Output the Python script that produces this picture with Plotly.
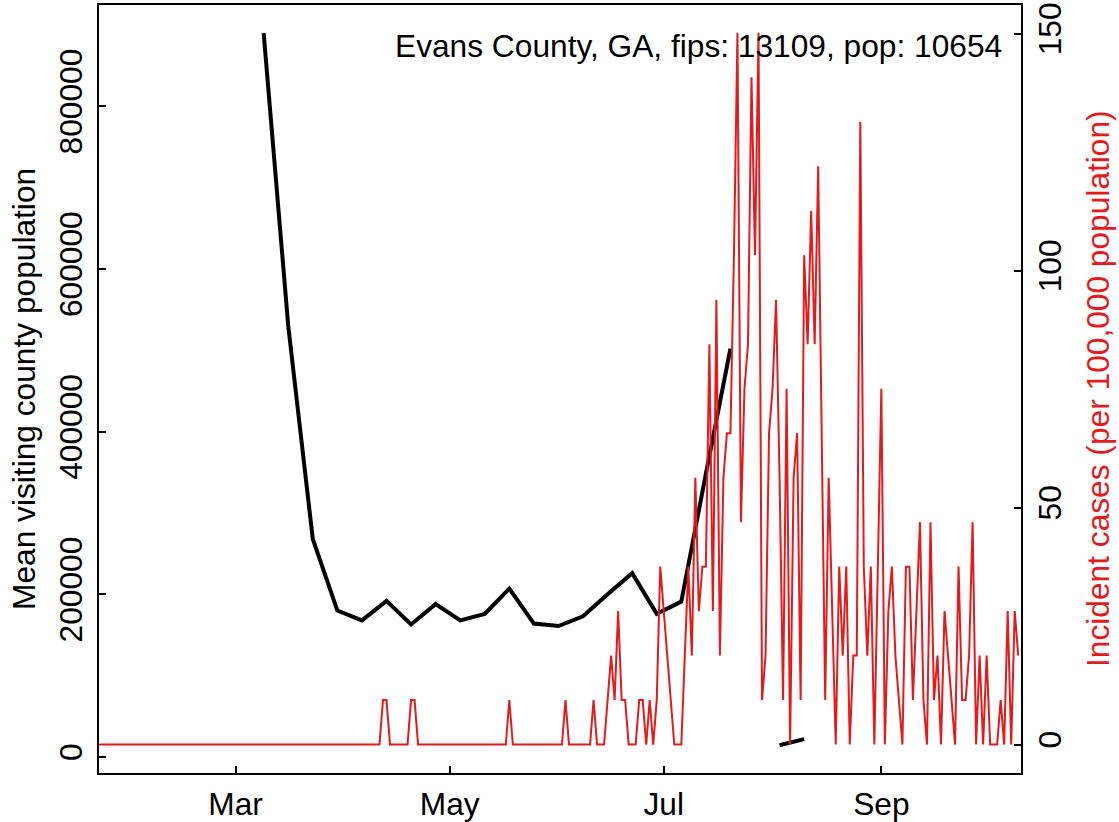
import pandas as pd
import plotly.graph_objects as go

# ---------------- data ----------------
county_pop = 10654
case_start = "2020-01-22"
# daily incident case counts (plotted per 100,000 population)
daily_cases = (
    [0] * 81
    + [1, 1]
    + [0] * 6
    + [1, 1]
    + [0] * 26
    + [1]
    + [0] * 15
    + [1]
    + [0] * 7
    + [1]
    + [0] * 3
    + [1, 2, 1, 3, 1, 1, 0, 0, 0, 1, 1, 0, 1, 0, 1, 4, 3, 2, 1, 0]
    + [0, 0, 2, 4, 2, 6, 3, 4, 4, 9, 3, 10, 2, 6, 7, 7, 11, 16, 5, 8]
    + [9, 15, 11, 16, 1, 2, 7, 8, 10, 6, 1, 8, 0, 6, 7, 1, 11, 9, 12, 9]
    + [13, 7, 1, 6, 3, 0, 4, 2, 4, 0, 2, 2, 14, 4, 2, 4, 0, 4, 8, 0]
    + [3, 4, 2, 1, 0, 4, 4, 1, 3, 5, 1, 0, 5, 1, 2, 0, 3, 2, 1, 0]
    + [4, 1, 1, 2, 5, 0, 2, 0, 2, 0, 0, 0, 1, 0, 3, 0, 3, 2]
)

week_dates = [
    "2020-03-09", "2020-03-16", "2020-03-23", "2020-03-30", "2020-04-06",
    "2020-04-13", "2020-04-20", "2020-04-27", "2020-05-04", "2020-05-11",
    "2020-05-18", "2020-05-25", "2020-06-01", "2020-06-08", "2020-06-15",
    "2020-06-22", "2020-06-29", "2020-07-06", "2020-07-13", "2020-07-20",
    "2020-07-27", "2020-08-03", "2020-08-10",
]
visiting_pop = [
    890000, 530000, 268000, 180000, 168000,
    192000, 163000, 188000, 168000, 176000,
    207000, 164000, 161000, 173000, 200000,
    226000, 176000, 191000, 348000, 502000,
    None, 14500, 22000,
]

x_tick_vals = ["2020-03-01", "2020-05-01", "2020-07-01", "2020-09-01"]
x_tick_text = ["Mar", "May", "Jul", "Sep"]
left_ticks = [0, 200000, 400000, 600000, 800000]
right_ticks = [0, 50, 100, 150]

title_text = "Evans County, GA, fips: 13109, pop: 10654"
left_label = "Mean visiting county population"
right_label = "Incident cases (per 100,000 population)"

# ---------------- figure ----------------
case_dates = pd.date_range(case_start, periods=len(daily_cases), freq="D")
incidence = [c * 100000 / county_pop for c in daily_cases]

RED = "#E41A1C"
FONT = "Liberation Sans, Arial, sans-serif"
FS = 31.7

fig = go.Figure()
fig.add_trace(go.Scatter(
    x=week_dates, y=visiting_pop, mode="lines",
    line=dict(color="black", width=4), connectgaps=False,
    yaxis="y", showlegend=False, hoverinfo="skip"))
fig.add_trace(go.Scatter(
    x=case_dates, y=incidence, mode="lines",
    line=dict(color=RED, width=2),
    yaxis="y2", showlegend=False, hoverinfo="skip"))

axis_common = dict(
    showgrid=False, zeroline=False, showline=True, linecolor="black",
    linewidth=2, ticks="inside", ticklen=7, tickwidth=2, tickcolor="black",
    tickfont=dict(family=FONT, size=FS, color="black"),
)

fig.update_layout(
    width=1119, height=822,
    margin=dict(l=99, r=98, t=5, b=49, autoexpand=False),
    paper_bgcolor="white", plot_bgcolor="white",
    font=dict(family=FONT, size=FS, color="black"),
    xaxis=dict(
        type="date",
        range=["2020-01-22 02:00", "2020-10-10 19:00"],
        tickmode="array", tickvals=x_tick_vals, ticktext=x_tick_text,
        mirror=True, ticklabelstandoff=2, **axis_common),
    yaxis=dict(
        range=[-19670, 924540],
        tickmode="array", tickvals=left_ticks,
        ticktext=[str(v) for v in left_ticks],
        tickangle=-90, ticklabelstandoff=2, **axis_common),
    yaxis2=dict(
        overlaying="y", side="right",
        range=[-6.0, 156.05],
        tickmode="array", tickvals=right_ticks,
        ticktext=[str(v) for v in right_ticks],
        tickangle=-90, ticklabelstandoff=0, **axis_common),
    annotations=[
        dict(text=title_text, xref="paper", yref="paper",
             x=(1004 - 99) / 922, y=(773 - 46) / 768,
             xanchor="right", yanchor="middle", showarrow=False,
             font=dict(family=FONT, size=FS, color="black")),
        dict(text=left_label, xref="paper", yref="paper",
             x=(24 - 99) / 922, y=0.5, textangle=-90,
             xanchor="center", yanchor="middle", showarrow=False,
             font=dict(family=FONT, size=FS, color="black")),
        dict(text=right_label, xref="paper", yref="paper",
             x=(1098 - 99) / 922, y=0.5, textangle=-90,
             xanchor="center", yanchor="middle", showarrow=False,
             font=dict(family=FONT, size=FS, color=RED)),
    ],
)

fig.write_html(
    "out.html",
    config={"displayModeBar": False},
    post_script="document.body.style.margin='0px';"
                "document.body.style.overflow='hidden';",
)
